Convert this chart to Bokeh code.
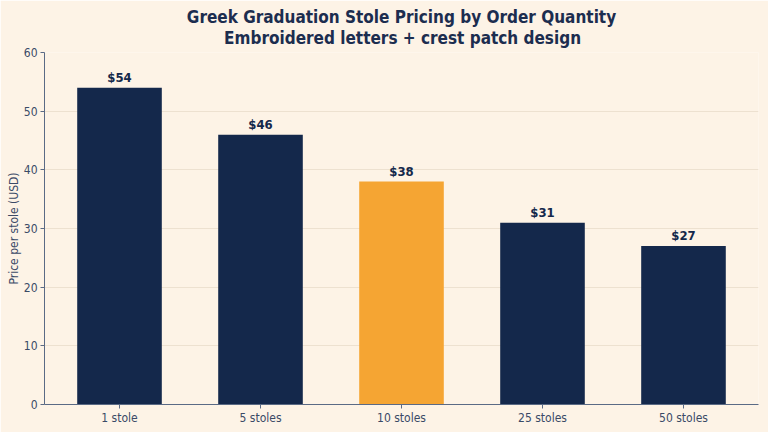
from bokeh.plotting import figure
from bokeh.models import ColumnDataSource, Title, FactorRange, Range1d, LabelSet
from bokeh.core.properties import value
from bokeh.embed import file_html
from bokeh.resources import INLINE

categories = ["1 stole", "5 stoles", "10 stoles", "25 stoles", "50 stoles"]
prices = [54, 46, 38, 31, 27]
labels = ["$54", "$46", "$38", "$31", "$27"]
highlight = "10 stoles"
title_line1 = "Greek Graduation Stole Pricing by Order Quantity"
title_line2 = "Embroidered letters + crest patch design"

NAVY = "#14284b"
ORANGE = "#f5a533"
BG = "#fdf3e6"
FONT = "DejaVu Sans Condensed"
NBSP = "\u00a0"

colors = [ORANGE if c == highlight else NAVY for c in categories]
src = ColumnDataSource(dict(cat=categories, price=prices, label=labels, color=colors))

p = figure(x_range=FactorRange(*categories, range_padding=0.032, range_padding_units="absolute"),
           y_range=Range1d(0, 60),
           width=768, height=432, output_backend="svg", toolbar_location=None,
           background_fill_color=BG, border_fill_color=BG,
           min_border_left=44, min_border_right=10, min_border_top=0, min_border_bottom=28)
p.outline_line_color = None

p.vbar(x="cat", top="price", width=0.6, color="color", source=src, line_color=None)

lab = LabelSet(x="cat", y="price", text="label", source=src, y_offset=3,
               text_align="center", text_baseline="bottom", text_font=value(FONT),
               text_font_style="bold", text_font_size="13px", text_color=NAVY)
p.add_layout(lab)

# multi-line title; second line indented so it sits centred under the first
p.title = Title(text=title_line1 + "\n" + NBSP * 7 + title_line2,
                align="center", text_font=FONT, text_font_size="17px", text_color="#1c2d4f",
                text_font_style="bold", text_line_height=1.06, standoff=9)

p.yaxis.axis_label = "Price per stole (USD)"
p.yaxis.axis_label_text_font = FONT
p.yaxis.axis_label_text_font_style = "normal"
p.yaxis.axis_label_text_font_size = "12px"
p.yaxis.axis_label_text_color = "#3a4a66"
p.yaxis.axis_label_standoff = 0
p.yaxis.major_label_standoff = 3
p.yaxis.ticker = [0, 10, 20, 30, 40, 50, 60]

for ax in (p.xaxis, p.yaxis):
    ax.major_label_text_font = FONT
    ax.major_label_text_font_size = "12px"
    ax.major_label_text_color = "#3a4a66"
    ax.axis_line_color = "#5a6a85"
    ax.major_tick_line_color = "#5a6a85"
    ax.minor_tick_line_color = None
    ax.major_tick_out = 4
    ax.major_tick_in = 0
p.xaxis.major_label_standoff = 2

p.xgrid.grid_line_color = None
p.ygrid.grid_line_color = "#e8dccb"
p.ygrid.grid_line_alpha = 0.8

open("out.html", "w").write(file_html(p, INLINE))
